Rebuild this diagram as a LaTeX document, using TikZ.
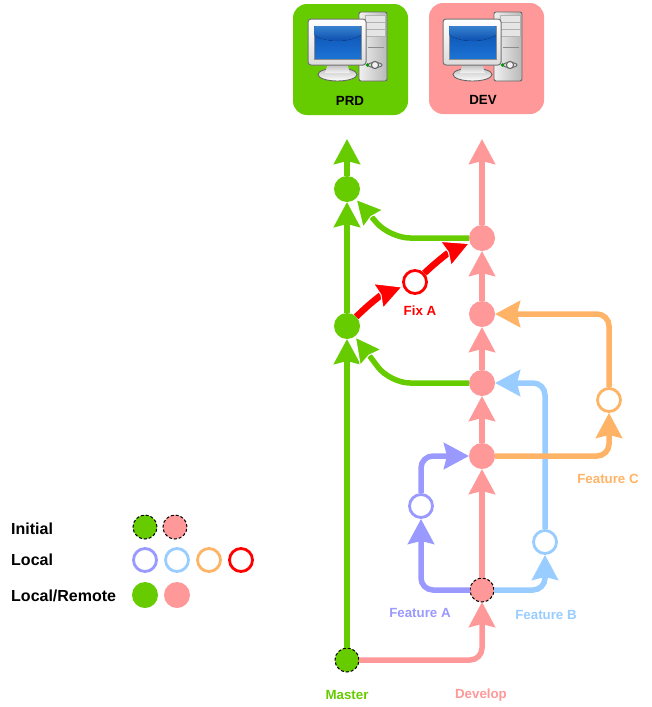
\documentclass[tikz,border=0pt]{standalone}
\usepackage{fontspec}
\setmainfont{Liberation Sans}
\usetikzlibrary{arrows.meta}
\definecolor{mastergreen}{HTML}{66CC00}
\definecolor{devpink}{HTML}{FF9999}
\definecolor{feata}{HTML}{9999FF}
\definecolor{featb}{HTML}{99CCFF}
\definecolor{featc}{HTML}{FFB366}
\definecolor{fixred}{HTML}{FF0000}
\definecolor{screendark}{HTML}{0B4FB0}
\definecolor{screenmid}{HTML}{1C74D4}
\definecolor{screenlight}{HTML}{66B4EE}
\tikzset{
  bighead/.tip={Stealth[length=25pt,width=26pt,inset=3pt]},
  greenhead/.tip={Stealth[length=27pt,width=28pt,inset=3pt,color=white,fill=mastergreen,line width=1pt]},
  redhead/.tip={Stealth[length=27pt,width=28pt,inset=3pt,color=white,fill=fixred,line width=1pt]},
  link/.style={line width=5.5pt,rounded corners=12pt,-bighead},
  greenlink/.style={line width=5.5pt,rounded corners=20pt,mastergreen,-greenhead},
  redlink/.style={line width=6.5pt,fixred,-redhead},
  commit/.style={circle,inner sep=0pt,minimum size=26pt,fill=#1,outer sep=0pt},
  initial/.style={circle,inner sep=0pt,minimum size=24pt,fill=#1,draw=black,densely dashed,line width=1pt,outer sep=0pt},
  localc/.style={circle,inner sep=0pt,minimum size=23pt,fill=white,draw=#1,line width=2.8pt,outer sep=1.4pt},
  lab/.style={font=\fontsize{13.3}{16}\selectfont\bfseries,text=#1,inner sep=0pt},
  leg/.style={font=\fontsize{16}{19}\selectfont\bfseries,anchor=west,inner sep=0pt},
  server/.style={draw=none,fill=#1,rounded corners=14pt},
  pics/computer/.style={code={
    % tower
    \draw[draw=black!60,line width=.9pt,left color=black!6,right color=black!28,rounded corners=2pt] (51,-7) rectangle (79,62);
    \foreach \y in {-4,3,10} {
      \draw[draw=black!30,fill=black!10,line width=.7pt] (57,\y) rectangle (77,\y+7);
    }
    \draw[black!45,line width=.9pt] (60,28) -- (76,28);
    \draw[draw=black!60,fill=black!15,line width=.9pt] (67,46) ellipse (7 and 2.5);
    \draw[draw=black!60,fill=black!5,line width=1.1pt] (67,46) circle (3.6);
    \fill[green!60!black] (59.5,46) circle (1.8);
    % stand
    \draw[draw=black!60,line width=.9pt,top color=black!25,bottom color=white] (29.5,55.5) ellipse (19.5 and 6.5);
    \draw[draw=none,top color=black!30,bottom color=black!4] (20,44) -- (39,44) -- (42,54) -- (17,54) -- cycle;
    % monitor
    \draw[draw=black!55,line width=1pt,top color=white,bottom color=black!14,rounded corners=3pt] (0,0) rectangle (58,46);
    \draw[draw=black!45,line width=.6pt,top color=screendark,bottom color=screenmid] (6,7) rectangle (53,40);
    \begin{scope}
      \clip (6.3,7.3) rectangle (52.7,39.7);
      \fill[top color=screenlight,bottom color=screendark] (29.5,7) ellipse (29 and 15);
    \end{scope}
  }}
}
\begin{document}
\begin{tikzpicture}[x=1pt,y=-1pt]
  \useasboundingbox (0,0) rectangle (651,707);
  % servers
  \draw[server=mastergreen] (293,4) rectangle (408,115);
  \draw[server=devpink] (429,3) rectangle (544,114);
  \pic (prdpc) at (308,19) {computer};
  \pic (devpc) at (443,19) {computer};
  \node [lab=black] (prd) at (350,101) {PRD};
  \node [lab=black] (dev) at (483,100) {DEV};
  % master
  \node [initial=mastergreen] (m0) at (347,660) {};
  \node [commit=mastergreen] (m1) at (347,326) {};
  \node [commit=mastergreen] (m2) at (347,189) {};
  \coordinate (mtop) at (347,139);
  % develop
  \node [initial=devpink] (d0) at (482,590) {};
  \node [commit=devpink] (d1) at (482,456) {};
  \node [commit=devpink] (d2) at (482,383) {};
  \node [commit=devpink] (d3) at (482,314) {};
  \node [commit=devpink] (d4) at (482,238) {};
  \coordinate (dtop) at (482,139);
  % local commits
  \node [localc=fixred] (fix) at (415,282) {};
  \node [localc=feata] (fa) at (421,506) {};
  \node [localc=featb] (fb) at (545,542) {};
  \node [localc=featc] (fc) at (609,400) {};
  % develop links
  \draw[link,devpink] (m0) -| (d0);
  \path[link,devpink] (d0) edge (d1) (d1) edge (d2) (d2) edge (d3) (d3) edge (d4) (d4) edge (dtop);
  % master links
  \path[link,mastergreen] (m0) edge (m1) (m1) edge (m2) (m2) edge (mtop);
  \coordinate (c1) at (390,238);
  \coordinate (c2) at (390,383);
  \draw[greenlink] (d4) -- (c1) -- (m2);
  \draw[greenlink] (d2) -- (c2) -- (m1);
  % fix
  \draw[redlink] (m1) to[bend left=12] (fix);
  \draw[redlink] (fix) to[bend left=10] (d4);
  % features
  \draw[link,feata] (d0) -| (fa);
  \draw[link,feata] (fa) |- (d1);
  \draw[link,featb] (d0) -| (fb);
  \draw[link,featb] (fb) |- (d2);
  \draw[link,featc] (d1) -| (fc);
  \draw[link,featc] (fc) |- (d3);
  % labels
  \node [lab=fixred] (lfix) at (420,311) {Fix A};
  \node [lab=feata] (lfa) at (420,613) {Feature A};
  \node [lab=featb] (lfb) at (546,615) {Feature B};
  \node [lab=featc] (lfc) at (608,479) {Feature C};
  \node [lab=mastergreen] (lm) at (347,695) {Master};
  \node [lab=devpink] (ld) at (481,695) {Develop};
  % legend
  \node [leg] (l1) at (11,529) {Initial};
  \node [leg] (l2) at (11,560) {Local};
  \node [leg] (l3) at (11,596) {Local/Remote};
  \node [initial=mastergreen] (a1) at (145,527) {};
  \node [initial=devpink] (a2) at (175,527) {};
  \node [localc=feata] (b1) at (145,560) {};
  \node [localc=featb] (b2) at (177,560) {};
  \node [localc=featc] (b3) at (209,560) {};
  \node [localc=fixred] (b4) at (241,560) {};
  \node [commit=mastergreen] (c3) at (145,595) {};
  \node [commit=devpink] (c4) at (177,595) {};
\end{tikzpicture}
\end{document}
